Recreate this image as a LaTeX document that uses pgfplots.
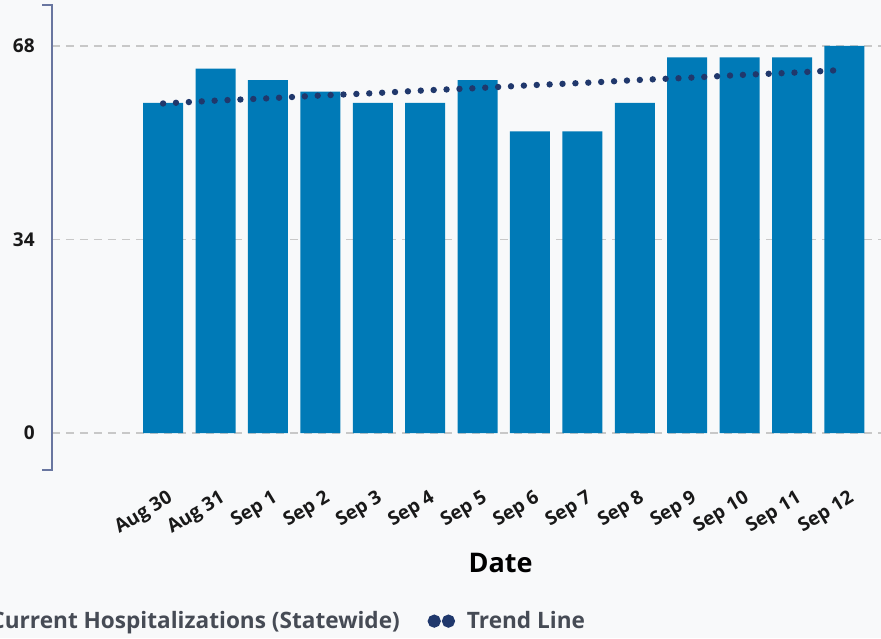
\documentclass[border=0pt]{standalone}
\usepackage{fontspec}
\setmainfont{Open Sans}
\usepackage{pgfplots}
\pgfplotsset{compat=1.18}
\usetikzlibrary{backgrounds}
\definecolor{barblue}{RGB}{0,122,183}
\definecolor{trendnavy}{RGB}{32,56,108}
\definecolor{axisslate}{RGB}{105,118,160}
\definecolor{gridgray}{RGB}{200,200,200}
\definecolor{bggray}{RGB}{248,249,250}
\definecolor{legtext}{RGB}{70,75,85}
\begin{document}
\begin{tikzpicture}
\begin{axis}[
  name=main,
  scale only axis, width=424pt, height=232.5pt,
  xmin=-2.12, xmax=14.06, ymin=-6.5, ymax=75.2,
  axis line style={draw=none},
  major tick length=0pt,
  ytick={0,34,68},
  ymajorgrids,
  grid style={gridgray, dash pattern=on 4pt off 3pt, line width=0.8pt},
  /pgf/number format/assume math mode=true,
  yticklabel style={font=\bfseries\fontsize{9.5}{11}\selectfont, color=black!90, anchor=east, inner sep=0pt, xshift=-8.5pt},
  xtick={0,...,13},
  xticklabels={Aug 30,Aug 31,Sep 1,Sep 2,Sep 3,Sep 4,Sep 5,Sep 6,Sep 7,Sep 8,Sep 9,Sep 10,Sep 11,Sep 12},
  xticklabel style={font=\bfseries\fontsize{9.5}{11}\selectfont, color=black!90, rotate=31, anchor=north east, inner sep=0pt, xshift=-3.5pt, yshift=-9pt},
  xlabel={Date},
  xlabel style={font=\bfseries\fontsize{13.5}{15}\selectfont, at={(axis description cs:0.529,-0.200)}, anchor=center},
  legend columns=2,
  legend style={draw=none, fill=none, font=\bfseries\fontsize{11.3}{13}\selectfont, text=legtext,
    at={(axis description cs:-0.126,-0.325)}, anchor=west,
    /tikz/every even column/.append style={column sep=12pt}},
]
\addplot[ybar, bar width=20pt, fill=barblue, draw=none, area legend] coordinates {
  (0,58) (1,64) (2,62) (3,60) (4,58) (5,58) (6,62)
  (7,53) (8,53) (9,58) (10,66) (11,66) (12,66) (13,68)
};
\addlegendentry{Current Hospitalizations (Statewide)}
\addplot[trendnavy, line width=3.2pt, line cap=round, dash pattern=on 0pt off 6.45pt,
  legend image code/.code={
    \path[draw=none] (0.22cm-1.75pt,0) -- (0.47cm+7.25pt,0);
    \fill[trendnavy, solid] (0.22cm,0) circle (1.6pt);
    \fill[trendnavy, solid] (0.47cm,0) circle (1.6pt);
  }] coordinates {
  (0,57.9) (1,58.4) (2,58.8) (3,59.3) (4,59.7) (5,60.2) (6,60.6)
  (7,61.1) (8,61.5) (9,62.0) (10,62.4) (11,62.9) (12,63.3) (13,63.8)
};
\addlegendentry{Trend Line}
\end{axis}
\draw[axisslate, line width=0.8pt]
  ([xshift=-5pt]main.north west) -- (main.north west) -- (main.south west) -- ([xshift=-5pt]main.south west);
\pgfresetboundingbox
\path[use as bounding box] ([xshift=-26pt,yshift=-84pt]main.south west) rectangle ([xshift=414.5pt,yshift=235pt]main.south west);
\begin{pgfonlayer}{background}
\fill[bggray] ([xshift=-26pt,yshift=-84pt]main.south west) rectangle ([xshift=414.5pt,yshift=235pt]main.south west);
\end{pgfonlayer}
\end{tikzpicture}
\end{document}
